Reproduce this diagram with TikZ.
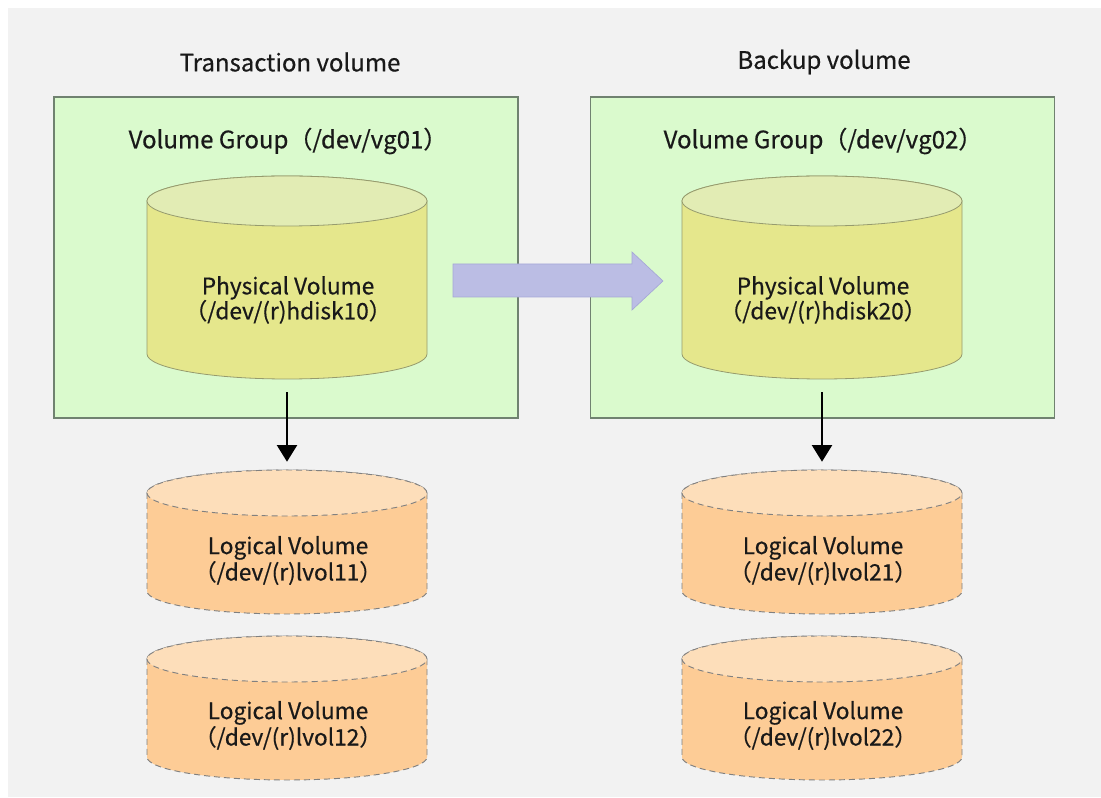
\documentclass[tikz,border=0pt]{standalone}
\usepackage{fontspec}
\setmainfont{Noto Sans CJK JP}[FakeBold=0.5]
\usetikzlibrary{arrows.meta}
\definecolor{bgc}{RGB}{242,242,242}
\definecolor{vgfill}{RGB}{218,250,205}
\definecolor{vgline}{RGB}{112,130,112}
\definecolor{pvbody}{RGB}{229,231,140}
\definecolor{pvtop}{RGB}{226,236,180}
\definecolor{pvline}{RGB}{150,155,110}
\definecolor{lvbody}{RGB}{253,204,150}
\definecolor{lvtop}{RGB}{253,222,186}
\definecolor{lvline}{RGB}{128,128,128}
\definecolor{arrfill}{RGB}{187,189,228}
\definecolor{arrline}{RGB}{165,167,215}
\definecolor{txt}{RGB}{25,25,25}
\newcommand\drawcyl[6]{%
  \path[#5] (#1-140,#2) -- (#1-140,#3)
     arc[start angle=180,end angle=360,x radius=140,y radius=#4]
     -- (#1+140,#2)
     arc[start angle=0,end angle=180,x radius=140,y radius=#4] -- cycle;
  \path[#6] (#1,#2) ellipse[x radius=140,y radius=#4];}
\begin{document}
\begin{tikzpicture}[x=0.75pt,y=0.75pt,
  lbl/.style={text=txt,font=\fontsize{18}{20}\selectfont,inner sep=0pt},
  twolines/.style={text=txt,inner sep=0pt,align=center,font=\fontsize{17}{18.75}\selectfont},
  vgbox/.style={draw=vgline,fill=vgfill,line width=0.9pt,minimum width=348pt,minimum height=240.75pt,inner sep=0pt},
  cylarea/.style={minimum width=210pt,inner sep=0pt},
  pvbodyst/.style={fill=pvbody,draw=pvline,line width=0.6pt},
  pvtopst/.style={fill=pvtop,draw=pvline,line width=0.6pt},
  lvbodyst/.style={fill=lvbody,draw=lvline,line width=0.7pt,dash pattern=on 4.5pt off 3pt},
  lvtopst/.style={fill=lvtop,draw=lvline,line width=0.7pt,dash pattern=on 4.5pt off 3pt},
  dnarrow/.style={line width=1.7pt,-{Triangle[width=15pt,length=12.5pt]}},
  bigarrow/.style={fill=arrfill,draw=arrline,line width=0.5pt}]
\useasboundingbox (0,0) rectangle (1101,-798);
\fill[bgc] (8,-8) rectangle (1101,-797);
% titles
\node[lbl] (t1) at (290,-62) {Transaction volume};
\node[lbl] (t2) at (824,-62) {Backup volume};
% volume group boxes
\node[vgbox] (vg1) at (286,-257.5) {};
\node[vgbox] (vg2) at (822.5,-257.5) {};
\node[lbl] (vg1t) at (288,-141) {Volume Group（/dev/vg01）};
\node[lbl] (vg2t) at (823,-141) {Volume Group（/dev/vg02）};
% physical volumes
\drawcyl{287}{-201}{-354}{25}{pvbodyst}{pvtopst}
\drawcyl{822}{-201}{-354}{25}{pvbodyst}{pvtopst}
\node[cylarea,minimum height=151.5pt] (pv1) at (287,-277) {};
\node[cylarea,minimum height=151.5pt] (pv2) at (822,-277) {};
\node[twolines] (pv1t) at (288,-300) {Physical Volume\\（/dev/(r)hdisk10）};
\node[twolines] (pv2t) at (823,-300) {Physical Volume\\（/dev/(r)hdisk20）};
% copy arrow
\path[bigarrow] (453,-264) -- (632,-264) -- (632,-252) -- (663,-281)
  -- (632,-310) -- (632,-297) -- (453,-297) -- cycle;
% logical volumes
\drawcyl{287}{-493}{-591}{23}{lvbodyst}{lvtopst}
\drawcyl{822}{-493}{-591}{23}{lvbodyst}{lvtopst}
\drawcyl{287}{-659}{-757}{23}{lvbodyst}{lvtopst}
\drawcyl{822}{-659}{-757}{23}{lvbodyst}{lvtopst}
\node[cylarea,minimum height=108pt] (lv11) at (287,-541) {};
\node[cylarea,minimum height=108pt] (lv21) at (822,-541) {};
\node[cylarea,minimum height=108pt] (lv12) at (287,-707) {};
\node[cylarea,minimum height=108pt] (lv22) at (822,-707) {};
\node[twolines] (lv11t) at (288,-560.5) {Logical Volume\\（/dev/(r)lvol11）};
\node[twolines] (lv21t) at (823,-560.5) {Logical Volume\\（/dev/(r)lvol21）};
\node[twolines] (lv12t) at (288,-725.5) {Logical Volume\\（/dev/(r)lvol12）};
\node[twolines] (lv22t) at (823,-725.5) {Logical Volume\\（/dev/(r)lvol22）};
% arrows down
\draw[dnarrow] ([yshift=-10.5pt]pv1.south) -- ([yshift=5.25pt]lv11.north);
\draw[dnarrow] ([yshift=-10.5pt]pv2.south) -- ([yshift=5.25pt]lv21.north);
\end{tikzpicture}
\end{document}
